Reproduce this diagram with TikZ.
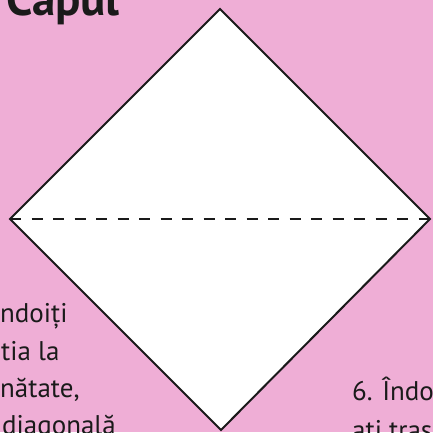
\documentclass[tikz,border=0pt]{standalone}
\usepackage{fontspec}
\setmainfont{PT Sans}
\usetikzlibrary{positioning}
\definecolor{bgpink}{HTML}{EFAED6}
\definecolor{inkc}{HTML}{1A1A1A}
\tikzset{
  sheet/.style={draw=inkc, line width=2pt, fill=white, line join=miter},
  valley/.style={draw=inkc, line width=2.8pt, dash pattern=on 11pt off 10.5pt},
  headline/.style={font=\fontsize{47}{54}\selectfont\bfseries, text=inkc, anchor=base west, inner sep=0pt},
  stepnote/.style={font=\fontsize{27}{33}\selectfont, text=inkc, anchor=base west, inner sep=0pt},
}

\begin{document}
\begin{tikzpicture}[x=1pt,y=-1pt]
  \useasboundingbox (0,0) rectangle (433,432);
  \clip (0,0) rectangle (433,432);
  \fill[bgpink] (0,0) rectangle (433,432);
  % square sheet, turned on its corner
  \coordinate (top) at (220,9);
  \coordinate (right) at (430,219);
  \coordinate (bottom) at (221,430);
  \coordinate (left) at (10,219);
  \draw[sheet] (top) -- (right) -- (bottom) -- (left) -- cycle;
  \draw[valley] (left) -- (right);
  % texts
  \node[headline] (title) at (6,15) {Capul};
  \node[stepnote] (l1) at (0,322) {ndoiți};
  \node[stepnote] (l2) at (1,360) {tia la};
  \node[stepnote] (l3) at (0,397) {nătate,};
  \node[stepnote] (l4) at (2,434) {diagonală};
  \node[stepnote] (r1) at (352,400) {6. Îndo};
  \node[stepnote] (r2) at (352,439) {ați tras};
\end{tikzpicture}
\end{document}
